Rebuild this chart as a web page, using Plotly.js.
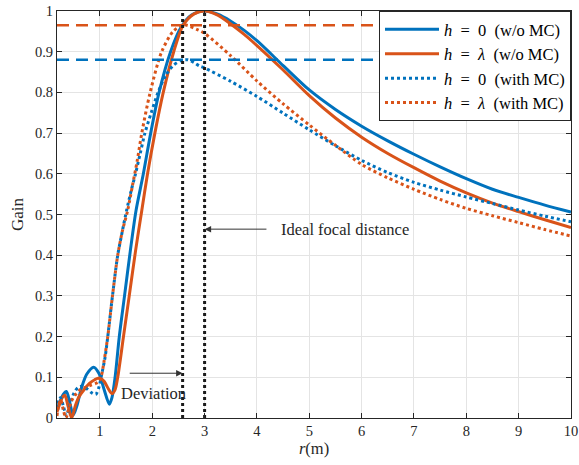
<!DOCTYPE html>
<html>
<head>
<meta charset="utf-8">
<script src="https://cdn.plot.ly/plotly-3.0.1.min.js"></script>
<style>html,body{margin:0;padding:0;background:#fff;}#chart{width:579px;height:465px;}</style>
</head>
<body>
<div id="chart"></div>
<script>
// h = 0 (w/o MC)
const xBlueSolid = [0.18,0.22,0.3,0.36,0.42,0.49,0.56,0.65,0.75,0.88,0.98,1.08,1.18,1.23,1.29,1.37,1.47,1.58,1.69,1.83,1.97,2.13,2.35,2.55,2.75,3.0,3.25,3.5,3.75,4.0,4.5,5.0,5.5,6.0,6.5,7.0,7.5,8.0,8.5,9.0,9.5,10.0];
const yBlueSolid = [0.02,0.035,0.058,0.065,0.04,0.007,0.03,0.075,0.108,0.125,0.11,0.07,0.034,0.05,0.1,0.2,0.3,0.41,0.51,0.6,0.7,0.8,0.9,0.96,0.99,1.0,0.992,0.975,0.953,0.927,0.866,0.806,0.758,0.717,0.681,0.648,0.617,0.588,0.562,0.542,0.523,0.506];
// h = lambda (w/o MC)
const xOrangeSolid = [0.18,0.22,0.28,0.33,0.39,0.46,0.53,0.6,0.7,0.8,0.9,0.99,1.08,1.16,1.23,1.29,1.34,1.45,1.56,1.68,1.80,1.91,2.05,2.21,2.41,2.59,2.8,3.0,3.25,3.5,3.75,4.0,4.5,5.0,5.5,6.0,6.5,7.0,7.5,8.0,8.5,9.0,9.5,10.0];
const yOrangeSolid = [0.015,0.03,0.05,0.056,0.03,0.0,0.03,0.052,0.07,0.085,0.094,0.098,0.09,0.072,0.06,0.07,0.1,0.2,0.3,0.41,0.51,0.6,0.7,0.8,0.9,0.965,0.993,1.0,0.99,0.968,0.943,0.915,0.855,0.792,0.737,0.69,0.65,0.615,0.582,0.553,0.528,0.507,0.487,0.468];
// h = 0 (with MC)
const xBlueDot = [0.18,0.21,0.25,0.3,0.36,0.42,0.5,0.58,0.66,0.75,0.84,0.92,0.98,1.03,1.1,1.15,1.24,1.34,1.43,1.51,1.6,1.68,1.77,1.86,1.98,2.11,2.25,2.4,2.55,2.68,2.8,2.9,3.0,3.5,4.0,4.5,5.0,5.5,6.0,6.5,7.0,7.5,8.0,8.5,9.0,9.5,10.0];
const yBlueDot = [0.02,0.045,0.05,0.03,0.005,0.03,0.06,0.075,0.078,0.072,0.062,0.058,0.075,0.105,0.15,0.2,0.3,0.4,0.46,0.51,0.56,0.6,0.65,0.7,0.75,0.8,0.84,0.866,0.878,0.88,0.873,0.865,0.86,0.827,0.79,0.749,0.708,0.669,0.633,0.603,0.579,0.56,0.543,0.527,0.511,0.496,0.482];
// h = lambda (with MC)
const xOrangeDot = [0.18,0.21,0.25,0.3,0.35,0.4,0.47,0.55,0.63,0.72,0.82,0.92,0.98,1.03,1.08,1.15,1.24,1.34,1.43,1.53,1.62,1.71,1.80,1.96,2.18,2.4,2.6,2.85,3.0,3.5,4.0,4.5,5.0,5.5,6.0,6.5,7.0,7.5,8.0,8.5,9.0,9.5,10.0];
const yOrangeDot = [0.005,0.03,0.045,0.02,0.0,0.02,0.045,0.06,0.07,0.075,0.08,0.085,0.09,0.105,0.14,0.2,0.3,0.4,0.46,0.51,0.57,0.63,0.7,0.8,0.9,0.95,0.966,0.955,0.945,0.89,0.828,0.772,0.72,0.67,0.623,0.59,0.562,0.537,0.515,0.497,0.48,0.463,0.447];

const legendNames = ['<i>h</i>&nbsp; = &nbsp;0 &nbsp;(w/o MC)','<i>h</i>&nbsp; = &nbsp;<i>λ</i> &nbsp;(w/o MC)','<i>h</i>&nbsp; = &nbsp;0 &nbsp;(with MC)','<i>h</i>&nbsp; = &nbsp;<i>λ</i> &nbsp;(with MC)'];
const xRange = [0.18, 10];
const peakLevels = [0.965, 0.88];   // orange dashed, blue dashed
const focalLines = [2.58, 3.0];     // vertical dotted
const xTicks = [1,2,3,4,5,6,7,8,9,10];
const yTicks = [0,0.1,0.2,0.3,0.4,0.5,0.6,0.7,0.8,0.9,1];

const BLUE = '#0072BD', ORANGE = '#D95319', BLACK = '#1a1a1a';
const FONT = 'Liberation Serif, Times New Roman, serif';
const SM = 0.8;

const traces = [
  {x: xBlueSolid, y: yBlueSolid, name: legendNames[0], mode: 'lines', line: {color: BLUE, width: 3, shape: 'spline', smoothing: SM}},
  {x: xOrangeSolid, y: yOrangeSolid, name: legendNames[1], mode: 'lines', line: {color: ORANGE, width: 3, shape: 'spline', smoothing: SM}},
  {x: xBlueDot, y: yBlueDot, name: legendNames[2], mode: 'lines', line: {color: BLUE, width: 3, dash: 'dot', shape: 'spline', smoothing: SM}},
  {x: xOrangeDot, y: yOrangeDot, name: legendNames[3], mode: 'lines', line: {color: ORANGE, width: 3, dash: 'dot', shape: 'spline', smoothing: SM}},
  {x: xRange, y: [peakLevels[0], peakLevels[0]], mode: 'lines', showlegend: false, line: {color: ORANGE, width: 2.5, dash: '12px,7px'}},
  {x: xRange, y: [peakLevels[1], peakLevels[1]], mode: 'lines', showlegend: false, line: {color: BLUE, width: 2.5, dash: '12px,7px'}},
  {x: [focalLines[0], focalLines[0]], y: [0, 1], mode: 'lines', showlegend: false, line: {color: BLACK, width: 3, dash: 'dot'}},
  {x: [focalLines[1], focalLines[1]], y: [0, 1], mode: 'lines', showlegend: false, line: {color: BLACK, width: 3, dash: 'dot'}}
];

const axisCommon = {
  showline: true, linecolor: '#262626', linewidth: 1, mirror: 'ticks',
  ticks: 'inside', ticklen: 5, tickcolor: '#262626', tickwidth: 1,
  showgrid: true, gridcolor: '#e4e4e4', gridwidth: 1, zeroline: false,
  tickfont: {family: FONT, size: 14.5, color: '#262626'}
};

const layout = {
  width: 579, height: 465,
  margin: {l: 57, r: 8, t: 11, b: 47},
  paper_bgcolor: '#fff', plot_bgcolor: '#fff',
  font: {family: FONT, color: '#262626'},
  xaxis: Object.assign({}, axisCommon, {
    range: xRange, tickvals: xTicks, ticktext: xTicks.map(String),
    title: {text: '<i>r</i>(m)', font: {family: FONT, size: 16.5, color: '#262626'}, standoff: 3}
  }),
  yaxis: Object.assign({}, axisCommon, {
    range: [0, 1], tickvals: yTicks, ticktext: yTicks.map(String),
    title: {text: 'Gain', font: {family: FONT, size: 17, color: '#262626'}, standoff: 7}
  }),
  legend: {
    x: 1, xanchor: 'right', y: 1, yanchor: 'top',
    bgcolor: '#fff', bordercolor: '#262626', borderwidth: 1,
    font: {family: FONT, size: 16.5, color: '#000'},
    itemwidth: 54, tracegroupgap: 0
  },
  annotations: [
    {x: 3.0, y: 0.464, ax: 4.21, ay: 0.464, xref: 'x', yref: 'y', axref: 'x', ayref: 'y',
     text: '', showarrow: true, arrowhead: 2, arrowsize: 1.3, arrowwidth: 1, arrowcolor: '#333'},
    {x: 4.42, y: 0.464, xref: 'x', yref: 'y', text: 'Ideal focal distance', showarrow: false,
     xanchor: 'left', yanchor: 'middle', font: {family: FONT, size: 16.5, color: '#262626'}},
    {x: 2.58, y: 0.11, ax: 1.54, ay: 0.11, xref: 'x', yref: 'y', axref: 'x', ayref: 'y',
     text: '', showarrow: true, arrowhead: 2, arrowsize: 1.3, arrowwidth: 1, arrowcolor: '#333'},
    {x: 1.37, y: 0.061, xref: 'x', yref: 'y', text: 'Deviation', showarrow: false,
     xanchor: 'left', yanchor: 'middle', font: {family: FONT, size: 16.5, color: '#262626'}}
  ]
};

Plotly.newPlot('chart', traces, layout, {displayModeBar: false, staticPlot: true});
</script>
</body>
</html>
